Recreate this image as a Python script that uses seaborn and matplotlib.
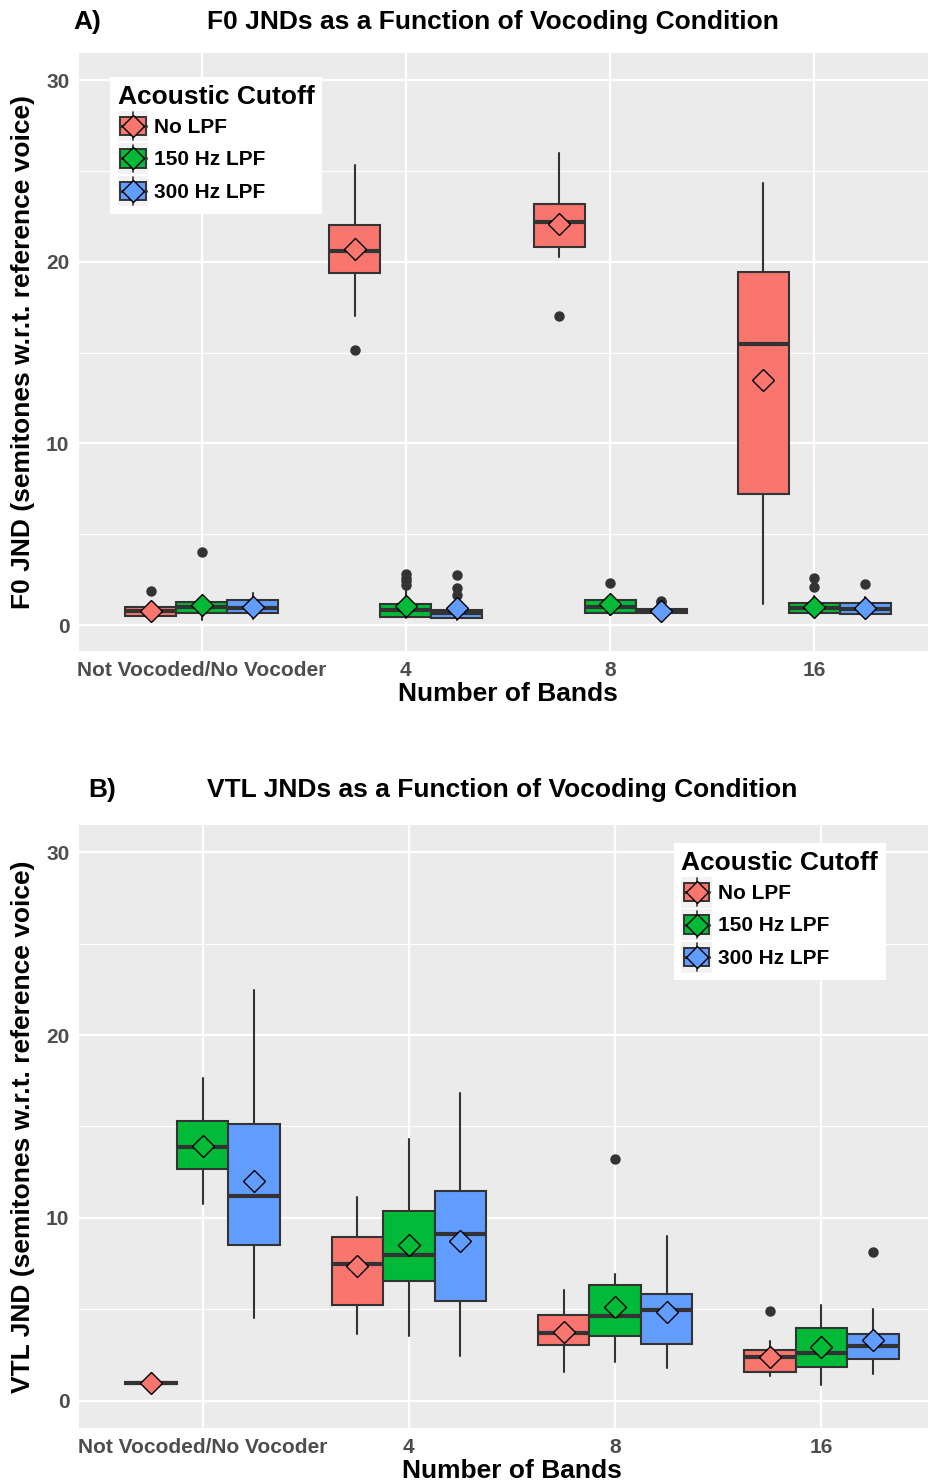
import numpy as np
import matplotlib
matplotlib.use("Agg")
import matplotlib.pyplot as plt
import seaborn as sns
from matplotlib.legend_handler import HandlerBase
from matplotlib.patches import Rectangle, Patch
from matplotlib.lines import Line2D

# ---------------- data ----------------
categories = ["Not Vocoded/No Vocoder", "4", "8", "16"]
cutoffs = ["No LPF", "150 Hz LPF", "300 Hz LPF"]
colors = ["#F8766D", "#00BA38", "#619CFF"]

# F0 JNDs (per cutoff: values for each band category)
f0_lo = [[0.28, 17.00, 20.27, 1.16], [0.28, 0.37, 0.55, 0.55], [0.31, 0.30, 0.50, 0.45]]
f0_q1 = [[0.50, 19.39, 20.80, 7.21], [0.64, 0.46, 0.68, 0.64], [0.64, 0.37, 0.66, 0.59]]
f0_med = [[0.77, 20.58, 22.20, 15.47], [0.97, 0.81, 1.01, 0.92], [0.95, 0.64, 0.75, 0.86]]
f0_q3 = [[1.01, 22.01, 23.21, 19.44], [1.28, 1.16, 1.38, 1.23], [1.36, 0.83, 0.86, 1.23]]
f0_hi = [[1.25, 25.35, 26.02, 24.34], [1.50, 2.02, 1.65, 1.60], [1.74, 1.40, 1.10, 1.56]]
f0_mean = [[0.79, 20.68, 22.11, 13.52], [1.10, 1.06, 1.16, 1.01], [1.01, 0.92, 0.75, 0.95]]
f0_fliers = [[[1.89], [15.17], [17.02], []],
             [[4.02], [2.80, 2.60, 2.40, 2.20], [2.33], [2.60, 2.11]],
             [[], [2.75, 2.02, 1.65], [1.35, 1.25], [2.26]]]

# VTL JNDs
vtl_lo = [[0.95, 3.67, 1.56, 1.38], [10.76, 3.55, 2.11, 0.86], [4.55, 2.44, 1.82, 1.49]]
vtl_q1 = [[0.95, 5.27, 3.07, 1.58], [12.65, 6.53, 3.53, 1.84], [8.54, 5.45, 3.11, 2.31]]
vtl_med = [[0.98, 7.49, 3.73, 2.38], [13.90, 7.98, 4.62, 2.62], [11.20, 9.13, 4.98, 2.98]]
vtl_q3 = [[1.01, 8.94, 4.71, 2.76], [15.31, 10.40, 6.36, 4.00], [15.16, 11.45, 5.86, 3.65]]
vtl_hi = [[1.01, 11.12, 6.09, 3.29], [17.65, 14.31, 6.93, 5.22], [22.45, 16.82, 9.02, 5.00]]
vtl_mean = [[0.98, 7.40, 3.76, 2.40], [13.94, 8.53, 5.16, 2.95], [12.03, 8.73, 4.84, 3.35]]
vtl_fliers = [[[], [], [], [4.89]],
              [[], [], [13.25], []],
              [[], [], [], [8.15]]]

y_ticks = [0, 10, 20, 30]
y_minor = [5, 15, 25]

# ---------------- style ----------------
sns.set_theme(style="darkgrid")
plt.rcParams["font.family"] = ["Liberation Sans", "DejaVu Sans"]
plt.rcParams["axes.facecolor"] = "#EBEBEB"
plt.rcParams["grid.color"] = "white"
plt.rcParams["text.color"] = "black"

DARK = "#333333"
TICKCOL = "#4D4D4D"


class BoxKeyHandler(HandlerBase):
    def create_artists(self, legend, orig_handle, xdescent, ydescent,
                       width, height, fontsize, trans):
        fc = orig_handle.get_facecolor()
        x0, y0 = -xdescent, -ydescent
        bg = Rectangle((x0, y0), width, height, facecolor="#F2F2F2",
                       edgecolor="none", transform=trans)
        cx, cy = x0 + width / 2, y0 + height / 2
        whisk = Line2D([cx, cx], [y0 + height * 0.05, y0 + height * 0.95],
                       color=DARK, lw=1.2, transform=trans)
        bw, bh = width * 0.85, height * 0.6
        box = Rectangle((cx - bw / 2, cy - bh / 2), bw, bh, facecolor=fc,
                        edgecolor=DARK, lw=1.4, transform=trans)
        med = Line2D([cx - bw / 2, cx + bw / 2], [cy, cy], color=DARK, lw=2.2,
                     transform=trans)
        dia = Line2D([cx], [cy], marker="D", markersize=11, markerfacecolor=fc,
                     markeredgecolor="black", markeredgewidth=1.0,
                     linestyle="none", transform=trans)
        return [bg, whisk, box, med, dia]


def draw_panel(ax, lo, q1, med, q3, hi, mean, fliers, ylabel, ylim):
    n_hue = len(cutoffs)
    width = 0.75 / n_hue
    for h in range(n_hue):
        stats = []
        positions = []
        for c in range(len(categories)):
            stats.append(dict(whislo=lo[h][c], q1=q1[h][c], med=med[h][c],
                              q3=q3[h][c], whishi=hi[h][c], mean=mean[h][c],
                              fliers=fliers[h][c]))
            positions.append(c + (h - (n_hue - 1) / 2) * width)
        ax.bxp(stats, positions=positions, widths=width, patch_artist=True,
               showmeans=True, showcaps=False, manage_ticks=False,
               boxprops=dict(facecolor=colors[h], edgecolor=DARK, linewidth=1.5),
               medianprops=dict(color=DARK, linewidth=3.0),
               whiskerprops=dict(color=DARK, linewidth=1.5),
               flierprops=dict(marker="o", markerfacecolor=DARK,
                               markeredgecolor=DARK, markersize=6.5),
               meanprops=dict(marker="D", markerfacecolor=colors[h],
                              markeredgecolor="black", markeredgewidth=1.0,
                              markersize=11))
    ax.set_xlim(-0.6, len(categories) - 1 + 0.6)
    ax.set_ylim(*ylim)
    ax.set_xticks(range(len(categories)))
    ax.set_xticklabels(categories)
    ax.set_yticks(y_ticks)
    ax.set_yticks(y_minor, minor=True)
    ax.grid(which="major", color="white", linewidth=1.6)
    ax.grid(which="minor", axis="y", color="white", linewidth=0.8)
    for s in ax.spines.values():
        s.set_visible(False)
    ax.tick_params(axis="both", which="major", length=4, width=1.0,
                   color=DARK, labelsize=15, labelcolor=TICKCOL, pad=3)
    ax.tick_params(axis="both", which="minor", length=0)
    for lab in ax.get_xticklabels() + ax.get_yticklabels():
        lab.set_fontweight("bold")
    ax.set_xlabel("Number of Bands", fontsize=19, fontweight="bold",
                  color="black", labelpad=2)
    ax.set_ylabel(ylabel, fontsize=19, fontweight="bold", color="black",
                  labelpad=8)


fig = plt.figure(figsize=(9.29, 14.83), dpi=100)
W, H = 929.0, 1483.0
axA = fig.add_axes([79 / W, 1 - 651 / H, (937 - 79) / W, (651 - 53) / H])
axB = fig.add_axes([79 / W, 1 - 1428 / H, (945 - 79) / W, (1428 - 825) / H])

draw_panel(axA, f0_lo, f0_q1, f0_med, f0_q3, f0_hi, f0_mean, f0_fliers,
           "F0 JND (semitones w.r.t. reference voice)", (-1.43, 31.5))
draw_panel(axB, vtl_lo, vtl_q1, vtl_med, vtl_q3, vtl_hi, vtl_mean, vtl_fliers,
           "VTL JND (semitones w.r.t. reference voice)", (-1.48, 31.48))

handles = [Patch(facecolor=c) for c in colors]
leg_kw = dict(handler_map={Patch: BoxKeyHandler()}, title="Acoustic Cutoff",
              fontsize=15, title_fontproperties={"weight": "bold", "size": 19},
              frameon=True, fancybox=False, framealpha=1.0,
              facecolor="white", edgecolor="none", borderaxespad=0,
              handlelength=1.45, handleheight=1.9, handletextpad=0.3,
              labelspacing=0.08, borderpad=0.38, alignment="left")
legA = axA.legend(handles, cutoffs, loc="upper left",
                  bbox_to_anchor=(0.036, 0.96), **leg_kw)
legB = axB.legend(handles, cutoffs, loc="upper right",
                  bbox_to_anchor=(0.932, 0.97), **leg_kw)
for leg in (legA, legB):
    for t in leg.get_texts():
        t.set_fontweight("bold")
        t.set_color("black")
    leg.get_title().set_color("black")

fig.text(73 / W, 1 - 22 / H, "A)", fontsize=19, fontweight="bold",
         ha="left", va="center", color="black")
fig.text(207 / W, 1 - 22 / H, "F0 JNDs as a Function of Vocoding Condition",
         fontsize=19, fontweight="bold", ha="left", va="center", color="black")
fig.text(88 / W, 1 - 790 / H, "B)", fontsize=19, fontweight="bold",
         ha="left", va="center", color="black")
fig.text(207 / W, 1 - 790 / H, "VTL JNDs as a Function of Vocoding Condition",
         fontsize=19, fontweight="bold", ha="left", va="center", color="black")

fig.savefig("out.png", dpi=100, facecolor="white")
